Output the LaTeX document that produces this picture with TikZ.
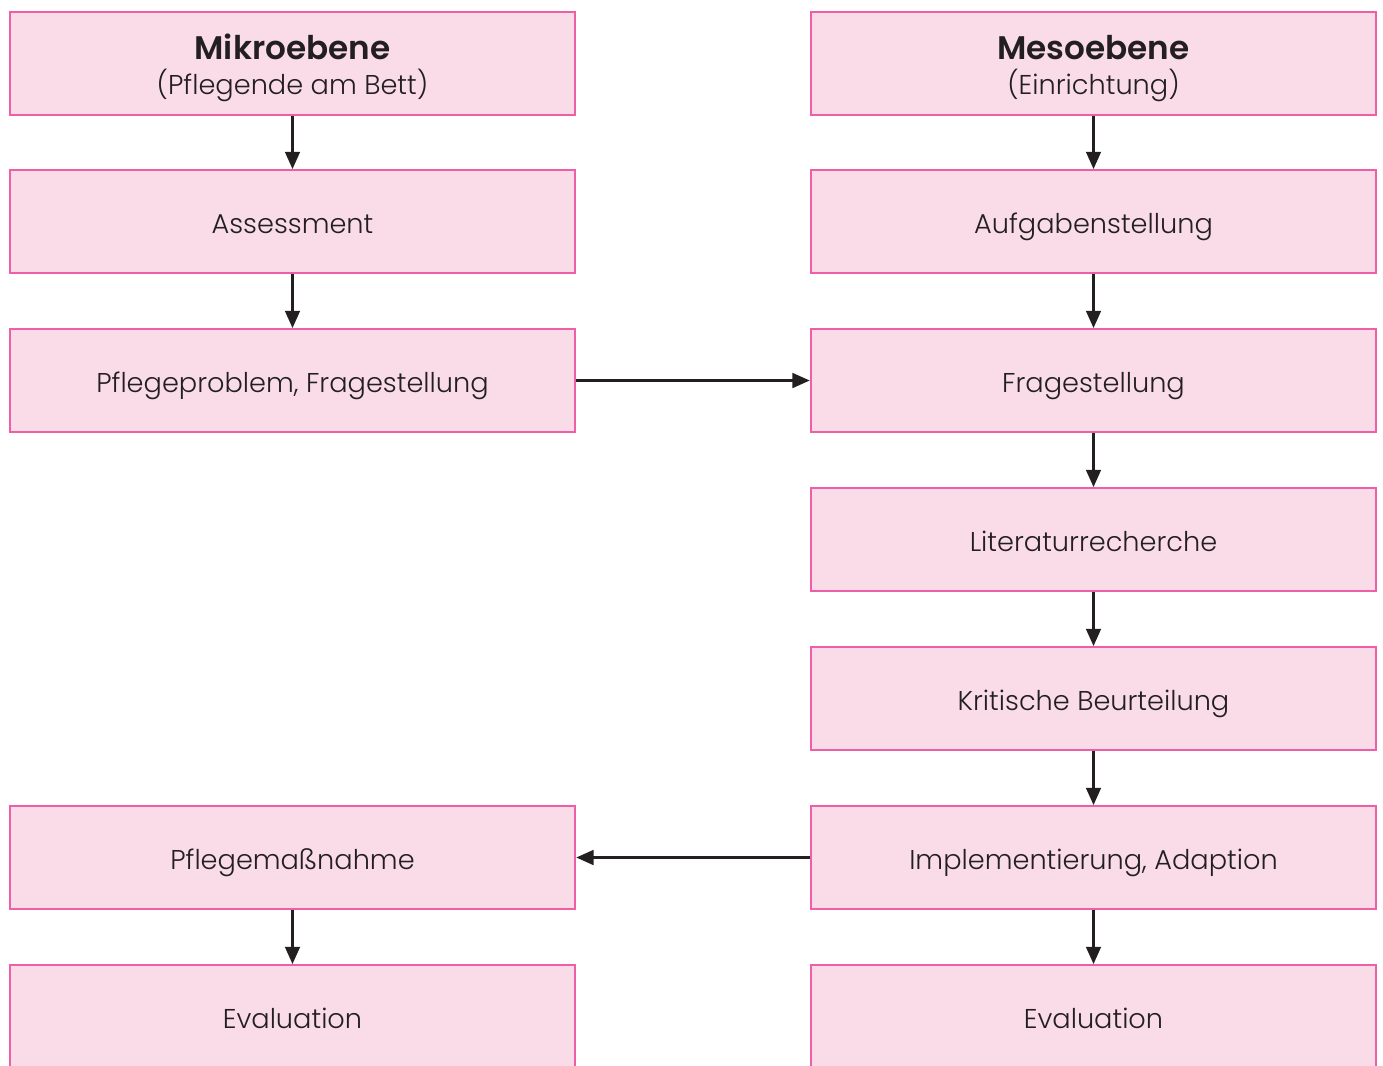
\documentclass[tikz,border=0pt]{standalone}
\usepackage{fontspec}
\setmainfont{Poppins}[UprightFont=* Light,BoldFont=* SemiBold]
\usetikzlibrary{arrows.meta}
\definecolor{boxfill}{HTML}{F9DCE8}
\definecolor{boxline}{HTML}{EE5FA8}
\definecolor{arr}{HTML}{231F20}
\begin{document}
\begin{tikzpicture}[x=0.75pt,y=-0.75pt,
  box/.style={draw=boxline,fill=boxfill,line width=1.6pt,minimum width=424pt,minimum height=77pt,inner sep=0pt,align=center,font=\fontsize{20.4}{28.5}\selectfont,text=arr,text height=22pt,text depth=4pt},
  ttlbox/.style={box,text height=50pt,text depth=3pt},
  conn/.style={draw=arr,line width=2pt,-{Triangle[length=13pt,width=11pt]}}]
\useasboundingbox (0,0) rectangle (1383,1065);
\node[ttlbox] (m0) at (292.5,63.5) {{\fontsize{24.5}{28.5}\selectfont\bfseries Mikroebene}\\[-2pt](Pflegende am Bett)};
\node[box] (m1) at (292.5,221.5) {Assessment};
\node[box] (m2) at (292.5,380.5) {Pflegeproblem, Fragestellung};
\node[box] (m5) at (292.5,857.5) {Pflegemaßnahme};
\node[box] (m6) at (292.5,1016.5) {Evaluation};
\node[ttlbox] (e0) at (1093.5,63.5) {{\fontsize{24.5}{28.5}\selectfont\bfseries Mesoebene}\\[-2pt](Einrichtung)};
\node[box] (e1) at (1093.5,221.5) {Aufgabenstellung};
\node[box] (e2) at (1093.5,380.5) {Fragestellung};
\node[box] (e3) at (1093.5,539.5) {Literaturrecherche};
\node[box] (e4) at (1093.5,698.5) {Kritische Beurteilung};
\node[box] (e5) at (1093.5,857.5) {Implementierung, Adaption};
\node[box] (e6) at (1093.5,1016.5) {Evaluation};
\draw[conn] (m0) -- (m1);
\draw[conn] (m1) -- (m2);
\draw[conn] (m5) -- (m6);
\draw[conn] (e0) -- (e1);
\draw[conn] (e1) -- (e2);
\draw[conn] (e2) -- (e3);
\draw[conn] (e3) -- (e4);
\draw[conn] (e4) -- (e5);
\draw[conn] (e5) -- (e6);
\draw[conn] (m2) -- (e2);
\draw[conn] (e5) -- (m5);
\end{tikzpicture}
\end{document}
